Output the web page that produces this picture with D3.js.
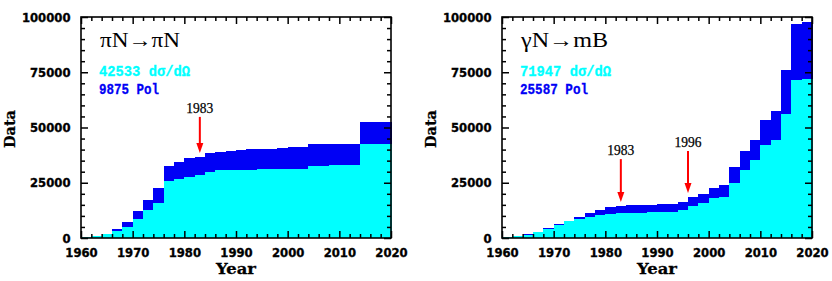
<!DOCTYPE html>
<html><head><meta charset="utf-8">
<script src="https://cdn.jsdelivr.net/npm/d3@7"></script>
<style>body{margin:0;background:#fff}svg{display:block}</style>
</head><body>
<svg id="c" width="832" height="281"></svg>
<script>
// ---- data ----
const binStarts = [1960,1962,1964,1966,1968,1970,1972,1974,1976,1978,1980,1982,1984,1986,1988,1990,1992,1994,1996,1998,2000,2002,2004,2006,2008,2010,2012,2014,2016,2018];
const binWidth = 2;
// piN -> piN : cumulative dσ/dΩ and cumulative Pol
const piN_dsdo = [500,900,1800,3200,5100,8700,12800,15800,25800,26700,27600,28500,29900,30800,30800,30800,30800,31200,31200,31200,31200,31200,32600,32600,33000,33000,33000,42500,42500,42533];
const piN_pol  = [0,0,0,1000,2100,3500,4400,6800,6800,7700,8600,8150,8600,8100,8600,9000,9500,9100,9100,9500,10000,10000,9900,9900,9500,9500,9500,9900,9900,9875];
// gammaN -> mB
const gN_dsdo = [500,750,1500,2600,4200,5900,7500,8700,9700,10300,11000,11500,11500,11500,11800,11800,11900,12500,14600,15800,17900,18700,25000,30800,35300,41900,44200,56100,71500,71947];
const gN_pol  = [0,0,100,300,300,300,300,800,1800,2200,3000,3000,3300,3300,3300,3400,3500,3800,4000,4000,4900,5300,7000,8700,9000,11500,13300,19800,25200,25587];
const yTicks = [0,25000,50000,75000,100000];
const xTicks = [1960,1970,1980,1990,2000,2010,2020];
const panels = [
  {title:"πN→πN", dsdo:piN_dsdo, pol:piN_pol, legendA:"42533 dσ/dΩ", legendB:"9875 Pol", arrows:[{year:1983, top:54800, tip:38500}]},
  {title:"γN→mB", dsdo:gN_dsdo, pol:gN_pol, legendA:"71947 dσ/dΩ", legendB:"25587 Pol", arrows:[{year:1983, top:35700, tip:16300},{year:1996, top:39400, tip:20400}]}
];

const svg = d3.select("#c");
const CYAN = "#00ffff", BLUE = "#0000f5";
const lefts = [81, 502];
const W = 310, plotTop = 17, plotBottom = 238;
const titleW = [80, 87], legAW = [91, 91], legBW = [60, 68];

panels.forEach((p, i) => {
  const x0 = lefts[i];
  const x = d3.scaleLinear().domain([1960,2020]).range([x0, x0 + W]);
  const y = d3.scaleLinear().domain([0,100000]).range([plotBottom, plotTop]);
  const g = svg.append("g");

  // bars
  const bins = binStarts.map((s, k) => ({s, a: p.dsdo[k], b: p.dsdo[k] + p.pol[k]}));
  g.selectAll("rect.pol").data(bins).join("rect").attr("class","pol")
    .attr("x", d => x(d.s)).attr("width", d => x(d.s + binWidth) - x(d.s) + 0.5)
    .attr("y", d => y(d.b)).attr("height", d => y(d.a) - y(d.b) + 0.5)
    .attr("fill", BLUE).attr("shape-rendering","crispEdges");
  g.selectAll("rect.ds").data(bins).join("rect").attr("class","ds")
    .attr("x", d => x(d.s)).attr("width", d => x(d.s + binWidth) - x(d.s) + 0.5)
    .attr("y", d => y(d.a)).attr("height", d => y(0) - y(d.a))
    .attr("fill", CYAN).attr("shape-rendering","crispEdges");

  // ticks (inward)
  const minorX = d3.range(1960, 2021, 2).filter(v => v % 10 !== 0);
  const minorY = d3.range(0, 100001, 5000).filter(v => v % 25000 !== 0);
  const styleAx = sel => { sel.attr("font-family", null).attr("font-size", null); sel.select(".domain").remove(); sel.selectAll("line").attr("stroke","#000").attr("stroke-width",1.5); };
  const styleTxt = s => s.selectAll("text").attr("font-family","DejaVu Sans").attr("font-weight","900")
      .attr("font-size","12.5px").attr("fill","#000").attr("stroke","#000").attr("stroke-width",0.35)
      .attr("textLength", function(){ return this.textContent.length * 8.1; }).attr("lengthAdjust","spacingAndGlyphs");
  g.append("g").attr("transform",`translate(0,${plotBottom})`)
    .call(d3.axisBottom(x).tickValues(xTicks).tickSize(-7).tickPadding(10).tickFormat(d3.format("d")))
    .call(styleAx).call(styleTxt);
  g.append("g").attr("transform",`translate(0,${plotBottom})`)
    .call(d3.axisBottom(x).tickValues(minorX).tickSize(-4).tickFormat("")).call(styleAx);
  g.append("g").attr("transform",`translate(0,${plotTop})`)
    .call(d3.axisTop(x).tickValues(xTicks).tickSize(-7).tickFormat("")).call(styleAx);
  g.append("g").attr("transform",`translate(0,${plotTop})`)
    .call(d3.axisTop(x).tickValues(minorX).tickSize(-4).tickFormat("")).call(styleAx);
  g.append("g").attr("transform",`translate(${x0},0)`)
    .call(d3.axisLeft(y).tickValues(yTicks).tickSize(-7).tickPadding(10.5).tickFormat(d3.format("d")))
    .call(styleAx).call(styleTxt);
  g.append("g").attr("transform",`translate(${x0},0)`)
    .call(d3.axisLeft(y).tickValues(minorY).tickSize(-4).tickFormat("")).call(styleAx);
  g.append("g").attr("transform",`translate(${x0+W},0)`)
    .call(d3.axisRight(y).tickValues(yTicks).tickSize(-7).tickFormat("")).call(styleAx);
  g.append("g").attr("transform",`translate(${x0+W},0)`)
    .call(d3.axisRight(y).tickValues(minorY).tickSize(-4).tickFormat("")).call(styleAx);

  // frame
  g.append("rect").attr("x", x0).attr("y", plotTop).attr("width", W).attr("height", plotBottom - plotTop)
    .attr("fill","none").attr("stroke","#000").attr("stroke-width",1.6);

  // title & legend
  g.append("text").attr("x", x0 + 19).attr("y", 47).text(p.title)
    .attr("font-family","Liberation Serif").attr("font-size","20px").attr("fill","#000")
    .attr("textLength", titleW[i]).attr("lengthAdjust","spacingAndGlyphs");
  g.append("text").attr("x", x0 + 18).attr("y", 76).text(p.legendA)
    .attr("font-family","Liberation Mono").attr("font-weight","bold").attr("font-size","14px").attr("fill",CYAN)
    .attr("stroke",CYAN).attr("stroke-width",0.3)
    .attr("textLength", legAW[i]).attr("lengthAdjust","spacingAndGlyphs");
  g.append("text").attr("x", x0 + 18).attr("y", 94).text(p.legendB)
    .attr("font-family","Liberation Mono").attr("font-weight","bold").attr("font-size","14px").attr("fill",BLUE)
    .attr("stroke",BLUE).attr("stroke-width",0.3)
    .attr("textLength", legBW[i]).attr("lengthAdjust","spacingAndGlyphs");

  // arrows
  p.arrows.forEach(a => {
    const ax = x(a.year), yt = y(a.top), yp = y(a.tip);
    g.append("text").attr("x", ax).attr("y", yt - 4).attr("text-anchor","middle").text(a.year)
      .attr("font-family","Liberation Serif").attr("font-size","14px").attr("fill","#000")
      .attr("stroke","#000").attr("stroke-width",0.25)
      .attr("textLength", 27).attr("lengthAdjust","spacingAndGlyphs");
    g.append("line").attr("x1", ax).attr("x2", ax).attr("y1", yt).attr("y2", yp - 8)
      .attr("stroke","#ff0000").attr("stroke-width",2);
    g.append("path").attr("d", `M${ax-3.5},${yp-10}L${ax+3.5},${yp-10}L${ax},${yp}Z`).attr("fill","#ff0000");
  });

  // axis titles
  g.append("text").attr("x", x0 + W/2).attr("y", 274).attr("text-anchor","middle").text("Year")
    .attr("font-family","DejaVu Serif").attr("font-weight","bold").attr("font-size","14.5px").attr("fill","#000")
    .attr("stroke","#000").attr("stroke-width",0.3)
    .attr("textLength", 40).attr("lengthAdjust","spacingAndGlyphs");
  g.append("text").attr("transform",`translate(${x0 - 66},129) rotate(-90)`).attr("text-anchor","middle").text("Data")
    .attr("font-family","DejaVu Serif").attr("font-weight","bold").attr("font-size","14.5px").attr("fill","#000")
    .attr("stroke","#000").attr("stroke-width",0.3)
    .attr("textLength", 38).attr("lengthAdjust","spacingAndGlyphs");
});
</script>
</body></html>
